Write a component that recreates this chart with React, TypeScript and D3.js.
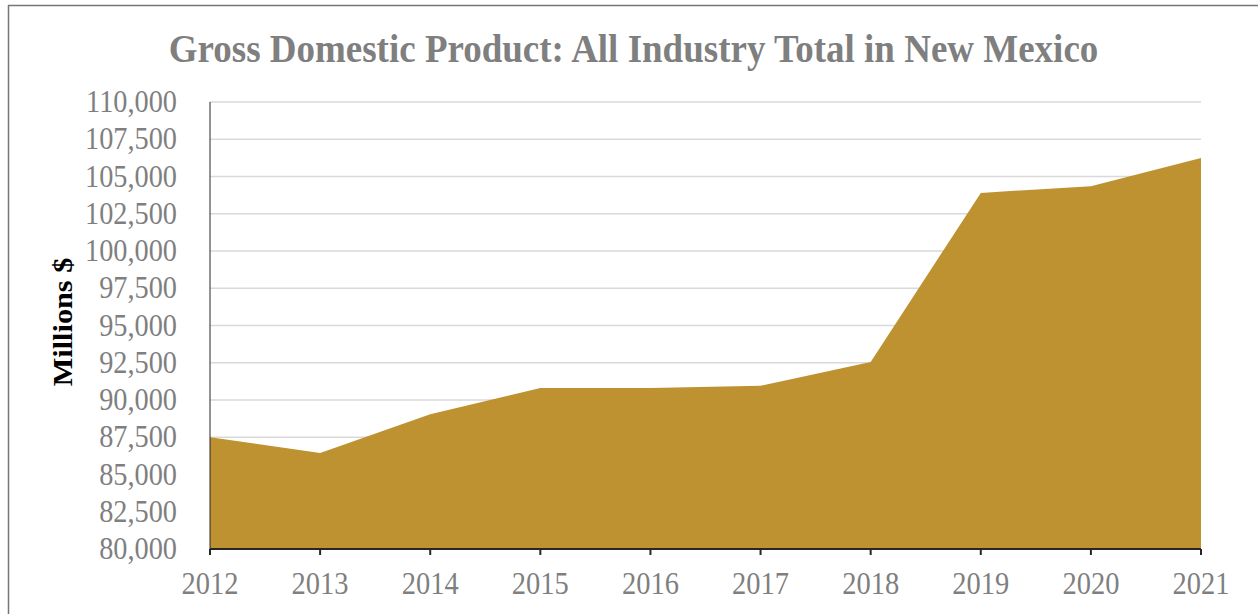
import { useMemo } from "react"
import * as d3 from "d3"

const years = ["2012", "2013", "2014", "2015", "2016", "2017", "2018", "2019", "2020", "2021"]
const gdp = [87500, 86450, 89050, 90800, 90800, 90950, 92550, 103900, 104350, 106250]
const yTicks = [80000, 82500, 85000, 87500, 90000, 92500, 95000, 97500, 100000, 102500, 105000, 107500, 110000]

const title = "Gross Domestic Product: All Industry Total in New Mexico"
const yTitle = "Millions $"

export default function App() {
    const width = 1258
    const height = 614
    const left = 210
    const right = 1201
    const top = 102
    const bottom = 549
    const stretch = 1.08 // the source image is a bit taller than wide

    const x = useMemo(() => d3.scalePoint().domain(years).range([left, right]), [])
    const y = useMemo(() => d3.scaleLinear().domain([80000, 110000]).range([bottom, top]), [])

    const area = d3
        .area<number>()
        .x((_, i) => x(years[i]) as number)
        .y0(bottom)
        .y1((d) => y(d))

    const fmt = d3.format(",")
    const grey = "#7f7f7f"
    const font = "'Liberation Serif', 'Times New Roman', serif"

    return (
        <svg
            width={width}
            height={height}
            style={{ position: "absolute", left: 0, top: 0, display: "block", background: "#fff" }}
            fontFamily={font}
        >
            {/* frame (only top + left visible) */}
            <line x1={8} x2={width} y1={5.5} y2={5.5} stroke="#767676" strokeWidth={1.5} />
            <line x1={8.5} x2={8.5} y1={5} y2={height} stroke="#767676" strokeWidth={1.5} />

            <text
                transform={`translate(633.5,62) scale(1,${stretch})`}
                textAnchor="middle"
                fontSize={37}
                fontWeight="bold"
                fill={grey}
            >
                {title}
            </text>

            {/* grid */}
            {yTicks.map((t) => (
                <line key={t} x1={left} x2={right} y1={y(t)} y2={y(t)} stroke="#d9d9d9" strokeWidth={1.5} />
            ))}

            <path d={area(gdp) ?? ""} fill="#be9230" />

            {/* axes */}
            <line x1={left} x2={left} y1={top} y2={bottom} stroke="#262626" strokeWidth={1} />
            <line x1={left} x2={right} y1={bottom} y2={bottom} stroke="#262626" strokeWidth={2} />
            {years.map((yr) => (
                <g key={yr}>
                    <line x1={x(yr)} x2={x(yr)} y1={bottom} y2={bottom + 6} stroke="#262626" strokeWidth={2} />
                    <text
                        transform={`translate(${x(yr)},${bottom + 45}) scale(1,${stretch})`}
                        textAnchor="middle"
                        fontSize={28.5}
                        fill={grey}
                    >
                        {yr}
                    </text>
                </g>
            ))}
            {yTicks.map((t) => (
                <text
                    key={t}
                    transform={`translate(177,${y(t) + 10}) scale(1,${stretch})`}
                    textAnchor="end"
                    fontSize={28.3}
                    fill={grey}
                >
                    {fmt(t)}
                </text>
            ))}

            <text
                transform={`translate(72,322) scale(1,${stretch}) rotate(-90)`}
                textAnchor="middle"
                fontSize={28}
                fontWeight="bold"
                fill="#000"
            >
                {yTitle}
            </text>
        </svg>
    )
}
